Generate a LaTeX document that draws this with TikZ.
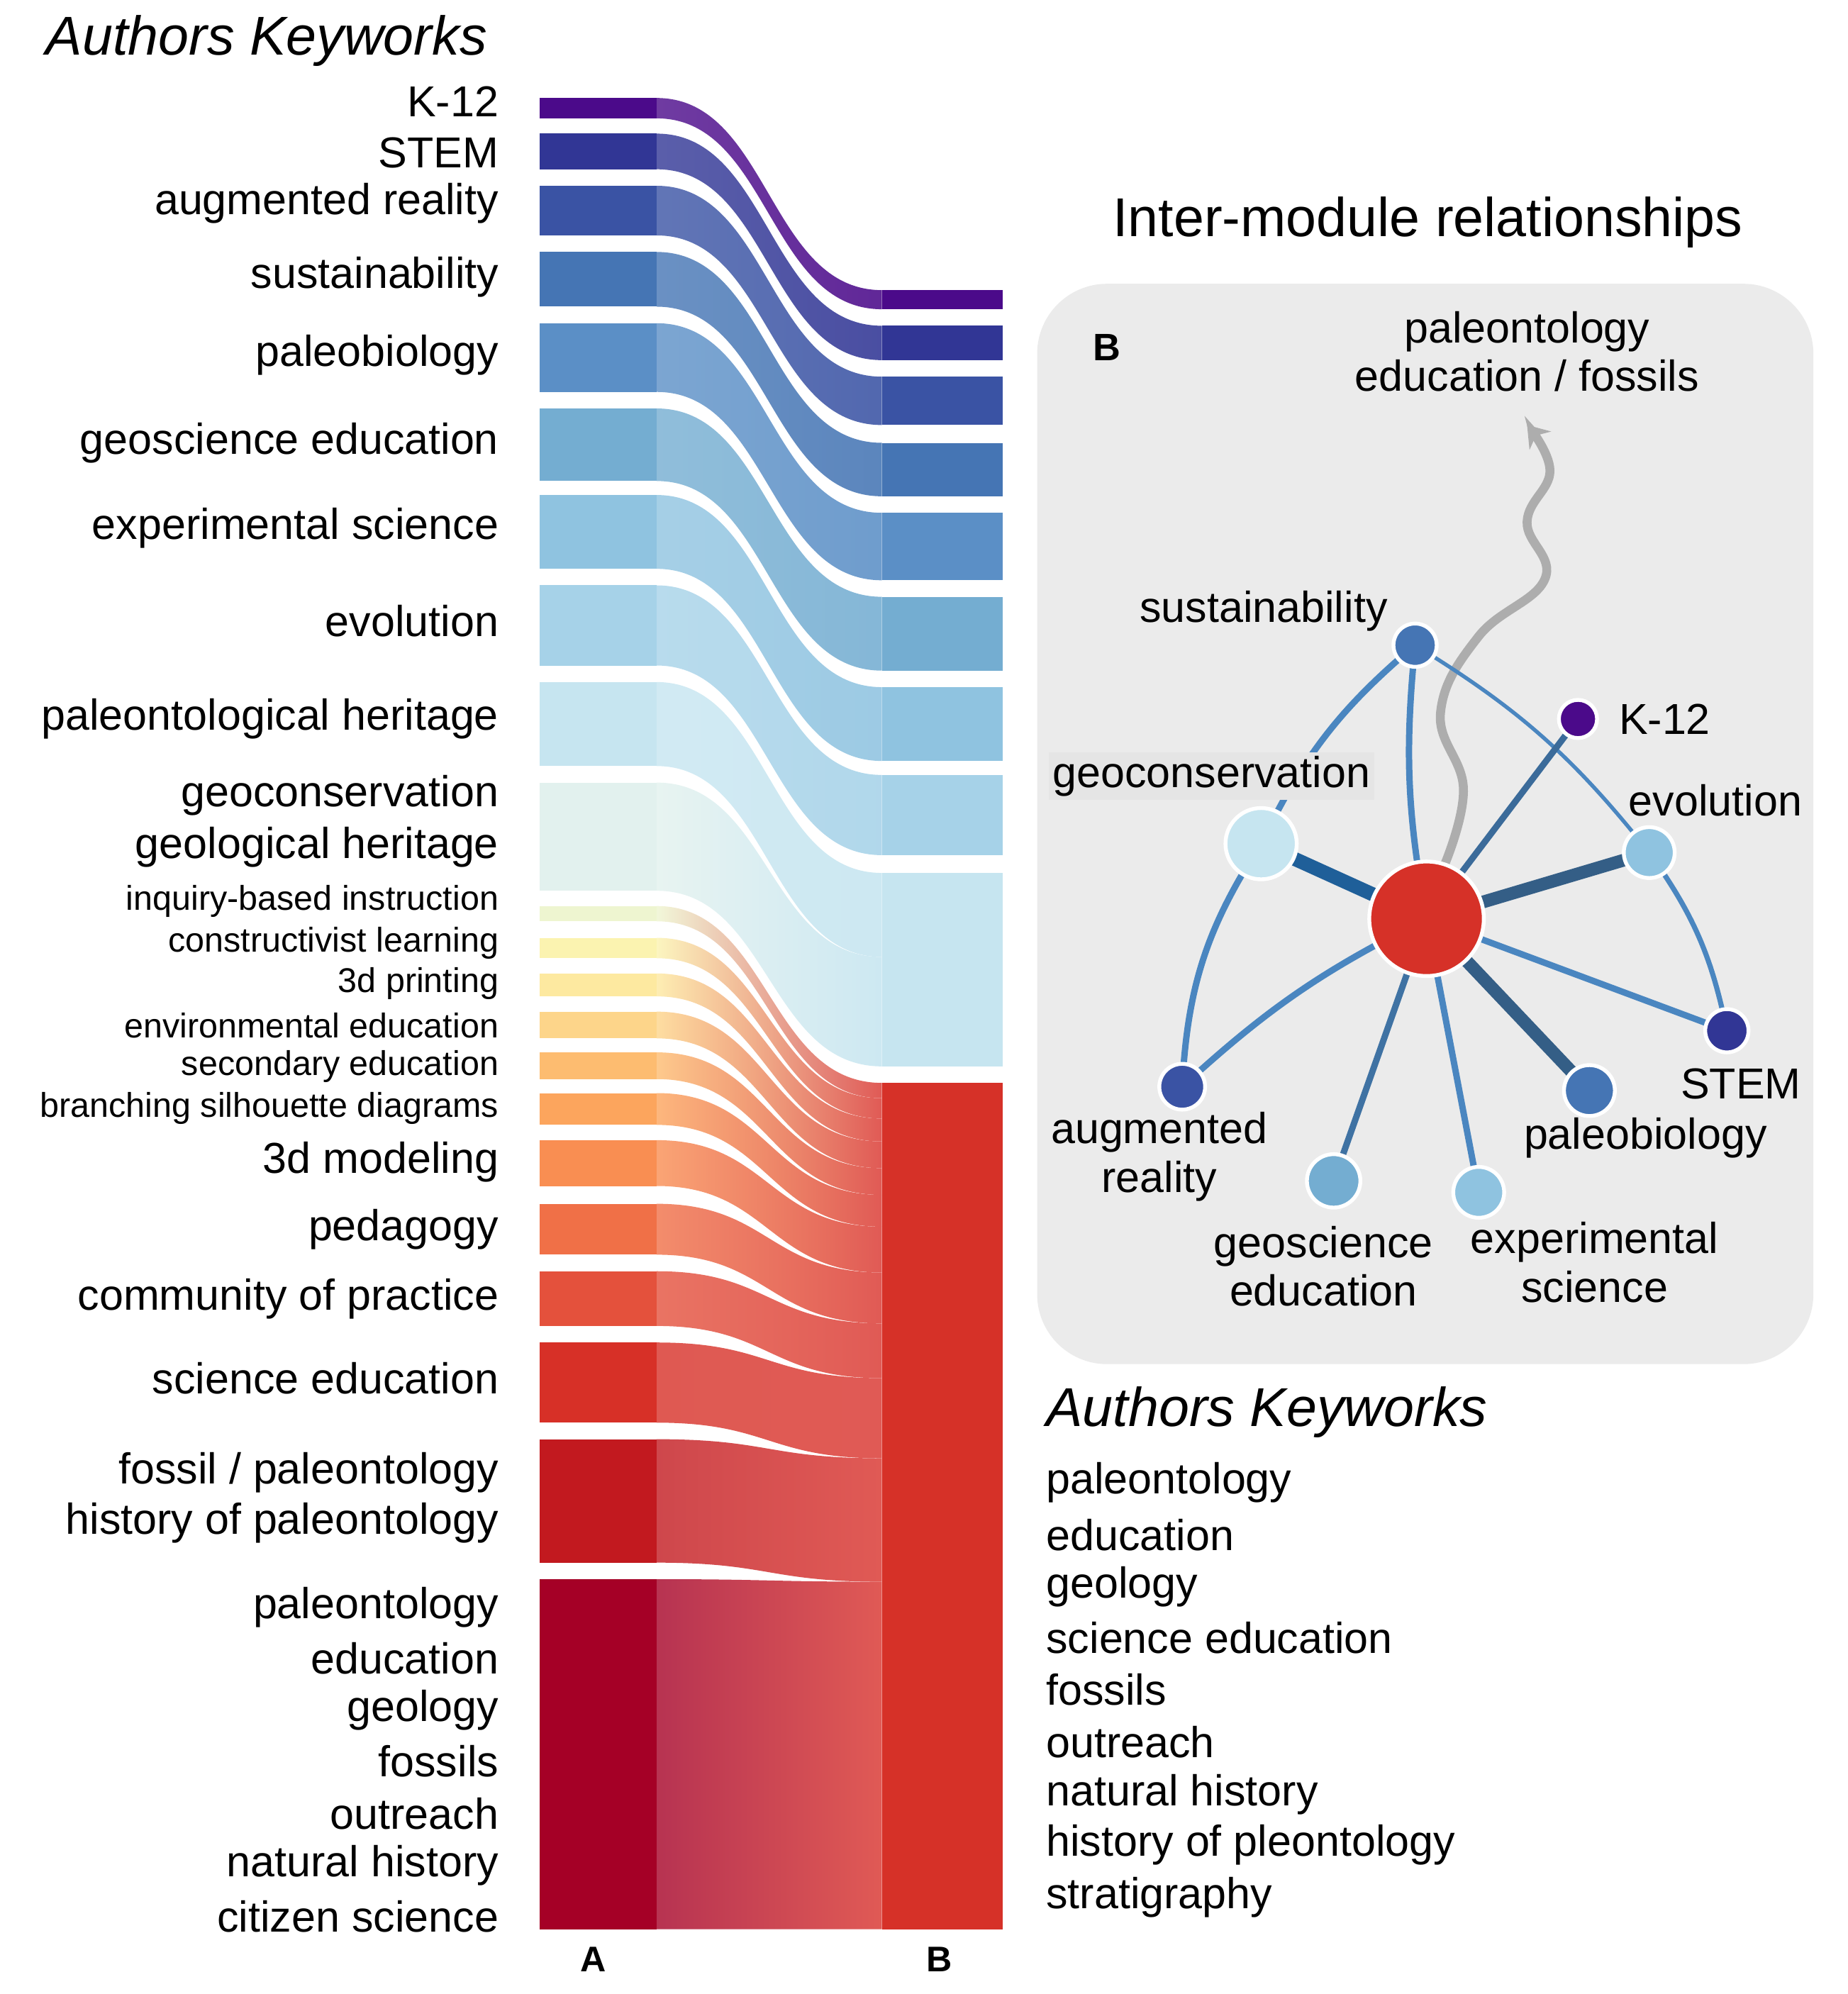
\documentclass[tikz,border=0pt]{standalone}
\usepackage{fontspec}
\setmainfont{Liberation Sans}
\usetikzlibrary{arrows.meta}
\definecolor{k1}{HTML}{4B0A8A}\definecolor{k2}{HTML}{313695}\definecolor{k3}{HTML}{3A53A4}
\definecolor{k4}{HTML}{4575B4}\definecolor{k5}{HTML}{5B8FC6}\definecolor{k6}{HTML}{74ADD1}
\definecolor{k7}{HTML}{8FC3E0}\definecolor{k8}{HTML}{A6D2E8}\definecolor{k9}{HTML}{C6E5F0}
\definecolor{k10}{HTML}{E2F1EE}\definecolor{r1}{HTML}{EEF5D0}\definecolor{r2}{HTML}{FBF3B0}
\definecolor{r3}{HTML}{FDE9A0}\definecolor{r4}{HTML}{FDD58A}\definecolor{r5}{HTML}{FDBC70}
\definecolor{r6}{HTML}{FCA55D}\definecolor{r7}{HTML}{F98E52}\definecolor{r8}{HTML}{F07047}
\definecolor{r9}{HTML}{E4513C}\definecolor{r10}{HTML}{D73027}\definecolor{r11}{HTML}{C2191F}
\definecolor{r12}{HTML}{A50026}\definecolor{bred}{HTML}{D63128}\definecolor{fred}{HTML}{E05A55}
\definecolor{panel}{HTML}{EBEBEB}\definecolor{edge}{HTML}{4A86C0}\definecolor{dedge}{HTML}{1F5F99}
\begin{document}
\begin{tikzpicture}[x=1pt,y=-1pt,
 lab/.style={anchor=east,font=\fontsize{34}{36}\selectfont,inner sep=0},
 slab/.style={anchor=east,font=\fontsize{27}{29}\selectfont,inner sep=0},
 glab/.style={font=\fontsize{34}{36}\selectfont,inner sep=0,align=center},
 ttl/.style={font=\fontsize{43}{45}\selectfont,inner sep=0},
 gn/.style={circle,draw=white,line width=3pt,inner sep=0},
 ed/.style={draw=edge,line width=5pt}]
\useasboundingbox (0,0) rectangle (1452,1567);
% flows
\foreach \aa/\ab/\ba/\bb/\c/\d in {77/93/228/243/k1/k1,105/133/256/283/k2/k2,146/185/296/334/k3/k3,198/241/348/390/k4/k4,254/308/403/456/k5/k5,321/378/469/527/k6/k6,389/447/540/598/k7/k7,460/523/609/672/k8/k8,536/602/686/752/k9/k9,615/700/752/838/k10/k9}{
 \shade[left color=\c!80!white,right color=\d!88!white] (516,\aa) .. controls (604,\aa) and (604,\ba) .. (693,\ba) -- (693,\bb) .. controls (604,\bb) and (604,\ab) .. (516,\ab) -- cycle;
 \fill[\c] (424,\aa) rectangle (516,\ab);
 \fill[\d] (693,\ba) rectangle (788,\bb);}
\fill[k9] (693,686) rectangle (788,838);
\foreach \aa/\ab/\ba/\bb/\c in {712/724/851/863/r1,737/753/863/879/r2,765/783/879/897/r3,795/816/897/918/r4,827/848/918/939/r5,859/884/939/964/r6,896/932/964/1000/r7,946/986/1000/1040/r8,999/1042/1040/1083/r9,1055/1118/1083/1146/r10,1131/1228/1146/1243/r11,1241/1516/1243/1516/r12}{
 \shade[left color=\c!80!white,right color=fred] (516,\aa) .. controls (604,\aa) and (604,\ba) .. (693,\ba) -- (693,\bb) .. controls (604,\bb) and (604,\ab) .. (516,\ab) -- cycle;
 \fill[\c] (424,\aa) rectangle (516,\ab);}
\fill[bred] (693,851) rectangle (788,1516);
% left labels
\node[ttl,anchor=west] (t1) at (36,32) {\itshape Authors Keyworks};
\foreach \y/\t in {80/K-12,120/STEM,160/augmented reality,218/sustainability,279/paleobiology,348/geoscience education,415/experimental science,488/evolution,565/paleontological heritage,625/geoconservation,666/geological heritage,913/3d modeling,966/pedagogy,1021/community of practice,1083/science education,1157/{fossil / paleontology},1197/history of paleontology,1263/paleontology,1303/education,1344/geology,1384/fossils,1425/outreach,1466/natural history,1506/citizen science}
 \node[lab] at (392,\y) {\t};
\foreach \y/\t in {708/inquiry-based instruction,741/constructivist learning,773/3d printing,806/environmental education,838/secondary education,871/branching silhouette diagrams}
 \node[slab] at (392,\y) {\t};
\node[font=\fontsize{28}{28}\selectfont\bfseries] (la) at (466,1540) {A};
\node[font=\fontsize{28}{28}\selectfont\bfseries] (lb) at (738,1540) {B};
% right panel
\node[ttl] (t2) at (1122,175) {Inter-module relationships};
\fill[panel,rounded corners=55pt] (815,223) rectangle (1425,1072);
\node[font=\fontsize{30}{30}\selectfont\bfseries] (pb) at (870,273) {B};
\node[glab] (top) at (1200,276) {paleontology\\[2pt]education / fossils};
\draw[line width=7pt,color=black!32,-{Stealth[length=16pt,width=22pt,open]}] plot[smooth,tension=0.7] coordinates {(1135,680) (1150,620) (1132,560) (1162,500) (1214,455) (1200,410) (1218,370) (1200,334)};
\coordinate (C) at (1121,722);
\coordinate (S) at (1112,507);\coordinate (K) at (1240,565);
\coordinate (G) at (991,663);\coordinate (E) at (1296,670);\coordinate (ST) at (1357,810);
\coordinate (AR) at (929,854);\coordinate (PB) at (1249,857);\coordinate (GE) at (1048,928);\coordinate (EX) at (1162,937);
\draw[ed] (S) to[bend right=8] (C);
\draw[ed,line width=3pt] (S) to[bend left=10] (E);
\draw[ed] (S) to[bend right=12] (G);
\draw[ed] (G) to[bend right=15] (AR);
\draw[ed,line width=4pt] (E) to[bend left=12] (ST);
\draw[ed] (AR) to[bend left=8] (C);
\draw[ed,color=edge!80!black] (K) -- (C);
\draw[ed,line width=11pt,color=dedge] (G) -- (C);
\draw[ed,line width=10pt,color=edge!70!black] (E) -- (C);
\draw[ed,line width=10pt,color=edge!70!black] (PB) -- (C);
\draw[ed] (ST) -- (C);
\draw[ed,color=edge!85!black] (GE) -- (C);
\draw[ed] (EX) -- (C);
\node[gn,fill=bred,minimum size=90pt] (nC) at (C) {};
\node[gn,fill=k4,minimum size=34pt] (nS) at (S) {};
\node[gn,fill=k1,minimum size=30pt] (nK) at (K) {};
\node[gn,fill=k9,minimum size=56pt] (nG) at (G) {};
\node[gn,fill=k7,minimum size=40pt] (nE) at (E) {};
\node[gn,fill=k2,minimum size=34pt] (nST) at (ST) {};
\node[gn,fill=k3,minimum size=36pt] (nAR) at (AR) {};
\node[gn,fill=k4,minimum size=40pt] (nPB) at (PB) {};
\node[gn,fill=k6,minimum size=42pt] (nGE) at (GE) {};
\node[gn,fill=k7,minimum size=40pt] (nEX) at (EX) {};
\node[glab] (lS) at (993,480) {sustainability};
\node[glab,anchor=west] (lK) at (1272,565) {K-12};
\node[glab,fill=black!10,inner sep=3pt] (lG) at (952,610) {geoconservation};
\node[glab] (lE) at (1348,629) {evolution};
\node[glab] (lST) at (1368,852) {STEM};
\node[glab] (lAR) at (911,909) {augmented\\[2pt]reality};
\node[glab] (lPB) at (1293,894) {paleobiology};
\node[glab] (lGE) at (1040,995) {geoscience\\[2pt]education};
\node[glab] (lEX) at (1253,992) {experimental\\[2pt]science};
% lower right list
\node[ttl,anchor=west] (t3) at (822,1110) {\itshape Authors Keyworks};
\foreach \y/\t in {1165/paleontology,1206/education,1247/geology,1287/science education,1328/fossils,1369/outreach,1410/natural history,1450/history of pleontology,1491/stratigraphy}
 \node[glab,anchor=west] at (822,\y) {\t};
\end{tikzpicture}
\end{document}
